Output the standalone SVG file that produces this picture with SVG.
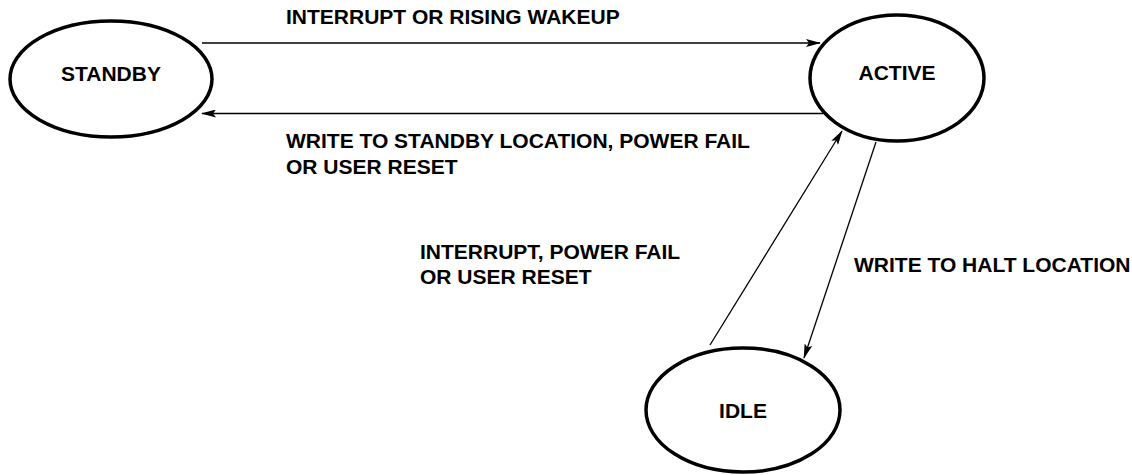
<svg xmlns="http://www.w3.org/2000/svg" width="1132" height="475" viewBox="0 0 1132 475">
<style>
.node{fill:#fff;stroke:#000;stroke-width:3.5}
.lbl{font-family:"Liberation Sans",Arial,sans-serif;font-weight:bold;font-size:21px;fill:#000}
.ctr{text-anchor:middle}
.edge{stroke:#000;stroke-width:1.3;fill:none;marker-end:url(#ah)}
</style>
<defs>
<marker id="ah" markerWidth="15" markerHeight="8" refX="14" refY="4" orient="auto" markerUnits="userSpaceOnUse">
<path d="M0,0 L15,4 L0,8 L3,4 Z" fill="#000"/>
</marker>
</defs>
<rect width="1132" height="475" fill="#fff"/>
<g id="standby">
<ellipse class="node" cx="111" cy="79" rx="101" ry="58"/>
<text class="lbl ctr" x="111" y="81">STANDBY</text>
</g>
<g id="active">
<ellipse class="node" cx="897" cy="78" rx="87" ry="63"/>
<text class="lbl ctr" x="897" y="80">ACTIVE</text>
</g>
<g id="idle">
<ellipse class="node" cx="743" cy="410" rx="97" ry="62"/>
<text class="lbl ctr" x="743" y="418">IDLE</text>
</g>
<g id="connectors">
<line class="edge" x1="202" y1="43" x2="820" y2="43"/>
<line class="edge" x1="823" y1="113.5" x2="202" y2="113.5"/>
<line class="edge" x1="710" y1="345" x2="842" y2="131"/>
<line class="edge" x1="876" y1="142" x2="804" y2="358"/>
</g>
<g id="labels">
<text class="lbl" x="286" y="24">INTERRUPT OR RISING WAKEUP</text>
<text class="lbl" x="286" y="148">WRITE TO STANDBY LOCATION, POWER FAIL</text>
<text class="lbl" x="286" y="174">OR USER RESET</text>
<text class="lbl" x="420" y="259">INTERRUPT, POWER FAIL</text>
<text class="lbl" x="420" y="284">OR USER RESET</text>
<text class="lbl" x="854" y="272">WRITE TO HALT LOCATION</text>
</g>
</svg>
